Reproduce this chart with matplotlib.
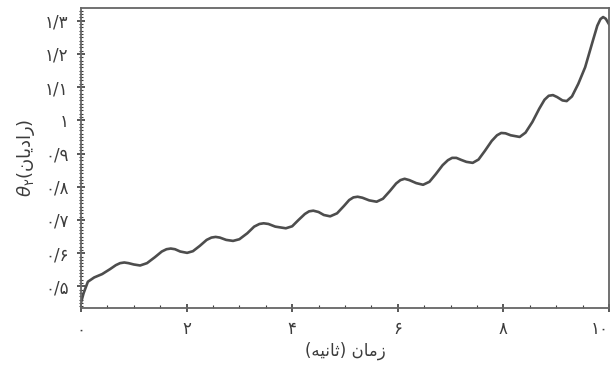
import matplotlib
matplotlib.use("Agg")
import matplotlib.pyplot as plt
from matplotlib.ticker import MultipleLocator

# زمان و زاویه خوانده شده از نمودار
t = [0.0, 0.05, 0.13, 0.25, 0.40, 0.55, 0.66, 0.74, 0.82, 0.90, 1.00, 1.12, 1.25, 1.40,
     1.53, 1.62, 1.70, 1.78, 1.88, 2.01, 2.12, 2.25, 2.38, 2.47, 2.55, 2.63, 2.75, 2.88,
     3.00, 3.15, 3.28, 3.38, 3.46, 3.55, 3.68, 3.88, 4.00, 4.12, 4.24, 4.32, 4.40, 4.50,
     4.60, 4.72, 4.85, 4.98, 5.08, 5.16, 5.24, 5.33, 5.46, 5.60, 5.72, 5.85, 5.97, 6.05,
     6.13, 6.22, 6.35, 6.48, 6.60, 6.72, 6.85, 6.95, 7.03, 7.11, 7.20, 7.30, 7.42, 7.53,
     7.65, 7.78, 7.88, 7.96, 8.04, 8.14, 8.31, 8.42, 8.55, 8.68, 8.78, 8.86, 8.94, 9.02,
     9.12, 9.20, 9.30, 9.42, 9.55, 9.70, 9.78, 9.84, 9.89, 9.94, 10.0]
theta2 = [0.451, 0.480, 0.514, 0.527, 0.537, 0.552, 0.564, 0.570, 0.572, 0.570, 0.566, 0.563,
          0.570, 0.588, 0.605, 0.612, 0.614, 0.612, 0.605, 0.601, 0.606, 0.622, 0.640, 0.647,
          0.649, 0.647, 0.640, 0.637, 0.642, 0.660, 0.680, 0.688, 0.690, 0.688, 0.680, 0.675,
          0.681, 0.700, 0.718, 0.726, 0.728, 0.724, 0.715, 0.711, 0.720, 0.742, 0.760, 0.768,
          0.770, 0.767, 0.759, 0.755, 0.764, 0.787, 0.810, 0.820, 0.824, 0.820, 0.811, 0.806,
          0.815, 0.838, 0.865, 0.880, 0.887, 0.887, 0.881, 0.875, 0.872, 0.882, 0.908, 0.938,
          0.955, 0.962, 0.961, 0.955, 0.950, 0.963, 0.995, 1.035, 1.062, 1.074, 1.076, 1.070,
          1.060, 1.058, 1.072, 1.110, 1.160, 1.242, 1.285, 1.305, 1.311, 1.306, 1.290]

x_ticks = [0, 2, 4, 6, 8, 10]
x_labels = ["۰", "۲", "۴", "۶", "۸", "۱۰"]
y_ticks = [0.5, 0.6, 0.7, 0.8, 0.9, 1.0, 1.1, 1.2, 1.3]
y_labels = ["۰/۵", "۰/۶", "۰/۷", "۰/۸", "۰/۹", "۱", "۱/۱", "۱/۲", "۱/۳"]

# متن فارسی به ترتیب دیداری (شکل‌های نمایشی)
x_title = "(\ufeea\ufef4\ufee7\ufe8e\ufe9b) \ufee5\ufe8e\ufee3\ufeaf"
y_title = r"$\theta_{\mathrm{۲}}$" + "(\ufee5\ufe8e\ufef3\ufea9\ufe8d\ufead)"

ink = "#3c3c3c"
plt.rcParams['font.family'] = ['DejaVu Sans']

fig = plt.figure(figsize=(6.16, 3.66), dpi=100)
ax = fig.add_axes([0.1315, 0.1585, 0.857, 0.8185])

ax.plot(t, theta2, color="#4d4d4d", lw=1.9, solid_joinstyle="round")

ax.set_xlim(0, 10)
ax.set_ylim(0.435, 1.337)
ax.set_xticks(x_ticks)
ax.set_xticklabels(x_labels)
ax.set_yticks(y_ticks)
ax.set_yticklabels(y_labels)
ax.xaxis.set_minor_locator(MultipleLocator(0.5))
ax.yaxis.set_minor_locator(MultipleLocator(0.01))

ax.tick_params(which="major", direction="inout", length=6, width=1.2, colors=ink,
               labelsize=12, pad=6)
ax.tick_params(which="minor", direction="in", length=2.5, width=0.8, colors=ink)
ax.tick_params(axis="y", which="minor", direction="inout", length=3)
for s in ax.spines.values():
    s.set_color("#666666")
    s.set_linewidth(1.3)

# آخرین برچسب محور افقی کمی به چپ تا بریده نشود
ax.get_xticklabels()[-1].set_horizontalalignment("right")

ax.set_xlabel(x_title, fontsize=12, color=ink, labelpad=2)
ax.set_ylabel(y_title, fontsize=13, color=ink, labelpad=6)

fig.savefig("out.png", dpi=100)
